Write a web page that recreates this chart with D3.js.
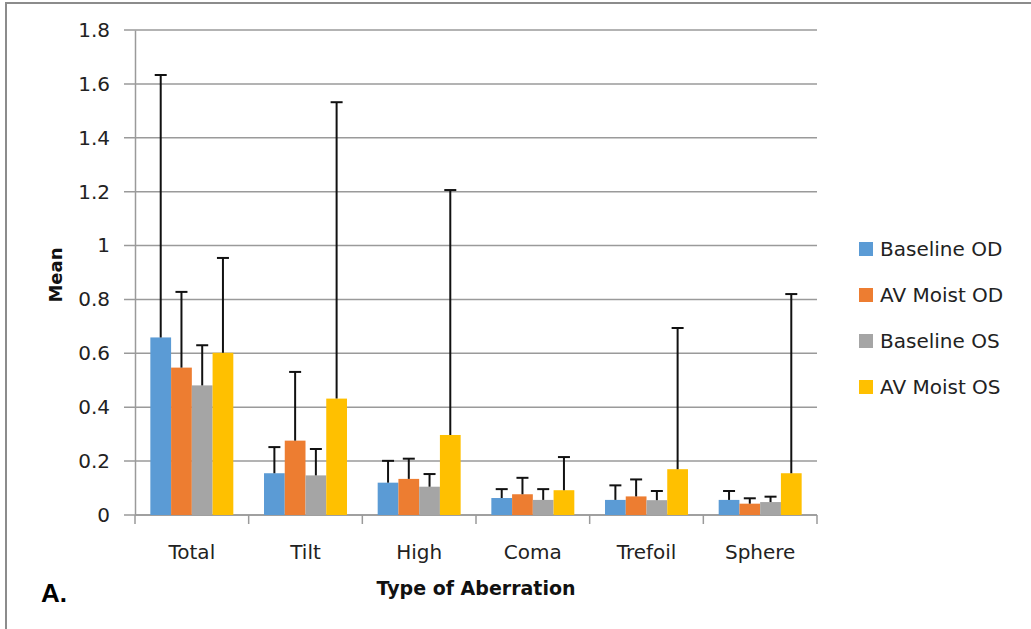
<!DOCTYPE html>
<html>
<head>
<meta charset="utf-8">
<script src="https://cdn.jsdelivr.net/npm/d3@7"></script>
<style>
  html, body { margin: 0; padding: 0; background: #fff; }
  svg { display: block; }
</style>
</head>
<body>
<script>
// Mean wavefront aberration by type, with upper error bars
const categories = ["Total", "Tilt", "High", "Coma", "Trefoil", "Sphere"];
const seriesNames = ["Baseline OD", "AV Moist OD", "Baseline OS", "AV Moist OS"];
const seriesColors = ["#5B9BD5", "#ED7D31", "#A5A5A5", "#FFC000"];

const baselineOD = [0.659, 0.155, 0.120, 0.063, 0.056, 0.056];
const avMoistOD  = [0.547, 0.276, 0.134, 0.077, 0.069, 0.042];
const baselineOS = [0.481, 0.147, 0.105, 0.056, 0.055, 0.048];
const avMoistOS  = [0.602, 0.432, 0.297, 0.092, 0.170, 0.155];

// plus-side error amounts
const errBaselineOD = [0.974, 0.097, 0.081, 0.033, 0.054, 0.033];
const errAvMoistOD  = [0.281, 0.255, 0.075, 0.061, 0.063, 0.020];
const errBaselineOS = [0.149, 0.098, 0.047, 0.040, 0.034, 0.020];
const errAvMoistOS  = [0.352, 1.100, 0.909, 0.123, 0.524, 0.665];

const yTicks = [0, 0.2, 0.4, 0.6, 0.8, 1, 1.2, 1.4, 1.6, 1.8];

const seriesValues = [baselineOD, avMoistOD, baselineOS, avMoistOS];
const seriesErrors = [errBaselineOD, errAvMoistOD, errBaselineOS, errAvMoistOS];

const W = 1031, H = 629;
const plot = { left: 135, right: 817, top: 30, bottom: 515 };

const svg = d3.select("body").append("svg")
  .attr("width", W).attr("height", H);

// frame
svg.append("path")
  .attr("d", `M6,${H} V3 H${W}`)
  .attr("fill", "none").attr("stroke", "#8c8c8c").attr("stroke-width", 2);

const y = d3.scaleLinear().domain([0, 1.8]).range([plot.bottom, plot.top]);
const x0 = d3.scaleBand().domain(categories).range([plot.left, plot.right]).padding(0);
const x1 = d3.scaleBand().domain(seriesNames)
  .range([x0.bandwidth() * 0.135, x0.bandwidth() * 0.865]).padding(0);

const fontFamily = "'DejaVu Sans', Verdana, sans-serif";

// horizontal gridlines
svg.append("g").selectAll("line").data(yTicks).join("line")
  .attr("x1", plot.left - 11).attr("x2", plot.right)
  .attr("y1", d => y(d)).attr("y2", d => y(d))
  .attr("stroke", "#9a9a9a").attr("stroke-width", 1.5);

// y axis
const yAxis = d3.axisLeft(y).tickValues(yTicks).tickSize(0).tickPadding(25)
  .tickFormat(d => d3.format("~g")(d));
const gy = svg.append("g").attr("transform", `translate(${plot.left},0)`).call(yAxis);
gy.select(".domain").attr("stroke", "#9a9a9a").attr("stroke-width", 1.5);
gy.selectAll("text").attr("font-family", fontFamily).attr("font-size", 20)
  .attr("fill", "#222");

// x axis
const xAxis = d3.axisBottom(x0).tickSize(0).tickPadding(30).tickSizeOuter(0);
const gx = svg.append("g").attr("transform", `translate(0,${plot.bottom})`).call(xAxis);
gx.select(".domain").remove();
gx.selectAll("text").attr("font-family", fontFamily).attr("font-size", 20)
  .attr("fill", "#222");
// category boundary ticks
const bounds = categories.map(c => x0(c)).concat([x0(categories[categories.length - 1]) + x0.bandwidth()]);
svg.append("g").selectAll("line").data(bounds).join("line")
  .attr("x1", d => d).attr("x2", d => d)
  .attr("y1", plot.bottom).attr("y2", plot.bottom + 9)
  .attr("stroke", "#9a9a9a").attr("stroke-width", 1.5);
svg.append("line")
  .attr("x1", plot.left).attr("x2", plot.right)
  .attr("y1", plot.bottom).attr("y2", plot.bottom)
  .attr("stroke", "#9a9a9a").attr("stroke-width", 1.5);

// bars
const groups = svg.append("g").selectAll("g").data(categories).join("g")
  .attr("transform", c => `translate(${x0(c)},0)`);

groups.each(function(c, ci) {
  const g = d3.select(this);
  seriesNames.forEach((s, si) => {
    const v = seriesValues[si][ci];
    g.append("rect")
      .attr("x", x1(s)).attr("width", x1.bandwidth())
      .attr("y", y(v)).attr("height", y(0) - y(v))
      .attr("fill", seriesColors[si]);
  });
});

// error bars (plus direction)
groups.each(function(c, ci) {
  const g = d3.select(this);
  seriesNames.forEach((s, si) => {
    const v = seriesValues[si][ci];
    const e = seriesErrors[si][ci];
    const cx = x1(s) + x1.bandwidth() / 2;
    g.append("line")
      .attr("x1", cx).attr("x2", cx)
      .attr("y1", y(v)).attr("y2", y(v + e))
      .attr("stroke", "#111").attr("stroke-width", 2);
    g.append("line")
      .attr("x1", cx - 6).attr("x2", cx + 6)
      .attr("y1", y(v + e)).attr("y2", y(v + e))
      .attr("stroke", "#111").attr("stroke-width", 2);
  });
});

// axis titles
svg.append("text")
  .attr("transform", `translate(62,275) rotate(-90)`)
  .attr("text-anchor", "middle")
  .attr("font-family", fontFamily).attr("font-weight", "bold").attr("font-size", 18)
  .attr("fill", "#111").text("Mean");

svg.append("text")
  .attr("x", 476).attr("y", 595)
  .attr("text-anchor", "middle")
  .attr("font-family", fontFamily).attr("font-weight", "bold").attr("font-size", 19)
  .attr("fill", "#111").text("Type of Aberration");

// panel label
svg.append("text")
  .attr("x", 41).attr("y", 602)
  .attr("font-family", "'Liberation Sans', Arial, sans-serif").attr("font-weight", "bold")
  .attr("font-size", 26).attr("fill", "#000").text("A.");

// legend
const legend = svg.append("g").selectAll("g").data(seriesNames).join("g")
  .attr("transform", (d, i) => `translate(859,${242 + i * 46})`);
legend.append("rect").attr("width", 14).attr("height", 14)
  .attr("fill", (d, i) => seriesColors[i]);
legend.append("text")
  .attr("x", 21).attr("y", 14)
  .attr("font-family", fontFamily).attr("font-size", 20).attr("fill", "#222")
  .text(d => d);
</script>
</body>
</html>
